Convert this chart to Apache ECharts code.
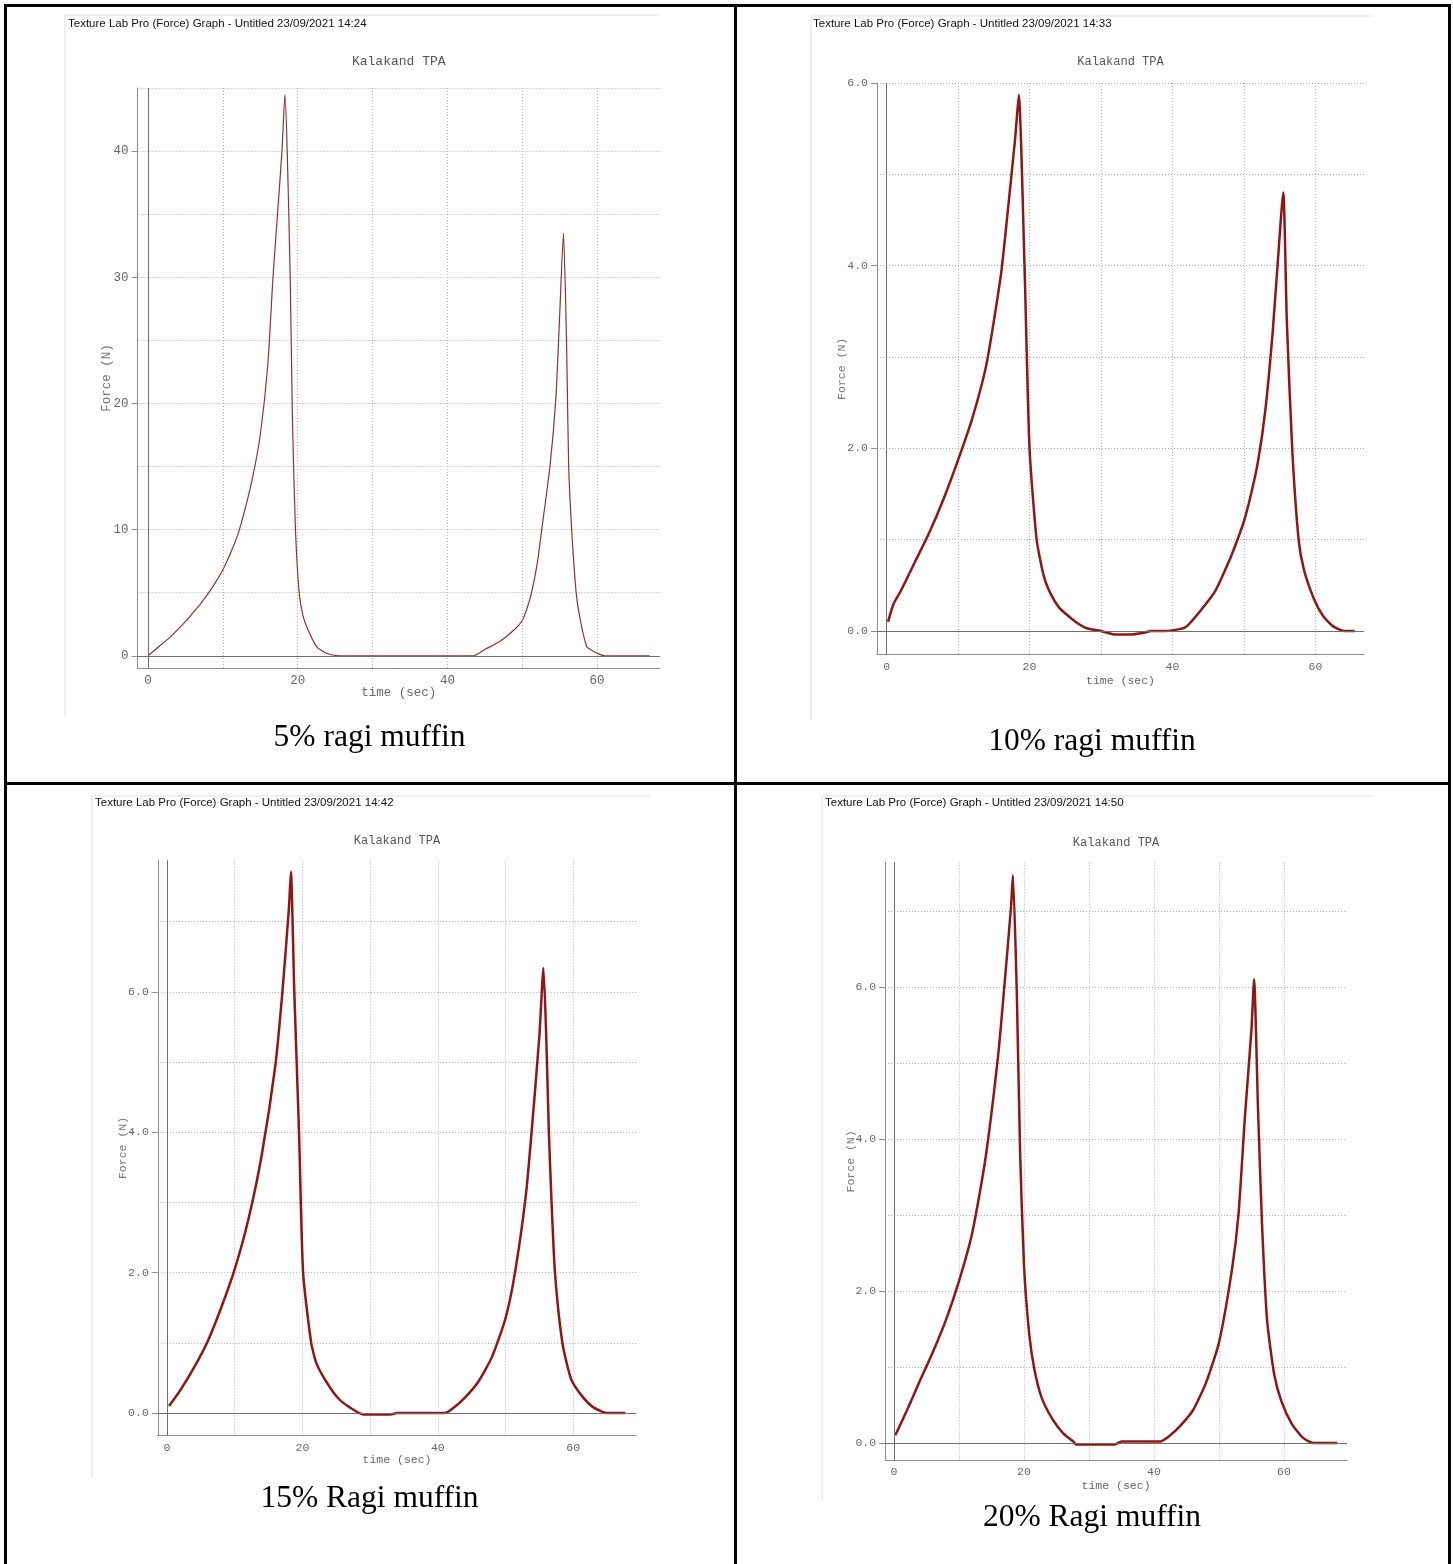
<!DOCTYPE html>
<html>
<head>
<meta charset="utf-8">
<title>Kalakand TPA</title>
<script src="https://cdn.jsdelivr.net/npm/echarts@6/dist/echarts.min.js"></script>
<style>
  html, body { margin: 0; padding: 0; background: #fff; }
  #chartBox { width: 1453px; height: 1564px; }
</style>
</head>
<body>
<div id="chartBox"></div>
<script>
// 5% ragi muffin
const time5 = [0, 1, 2, 3, 4, 5, 6, 7, 8, 9, 10, 11, 12, 13, 14, 15, 16, 16.7, 17.3, 17.9, 18.3, 18.6, 19.0, 19.3, 19.7, 20.2, 20.7, 21.2, 22.5, 23.5, 24.5, 25.5, 30, 35, 40, 43.5, 45, 47, 49, 50, 50.6, 51.2, 52, 52.6, 53.7, 54.5, 55, 55.5, 55.8, 56.0, 56.2, 56.6, 57.2, 57.7, 58.6, 59.5, 60, 61, 64, 67];
const force5 = [0, 0.5, 1.0, 1.5, 2.1, 2.7, 3.4, 4.1, 4.9, 5.8, 6.8, 8.1, 9.6, 11.7, 14.2, 17.5, 23, 30, 35, 40, 44.5, 40, 30, 18.7, 10, 5, 3.2, 2.3, 0.74, 0.3, 0.08, 0, 0, 0, 0, 0, 0.5, 1.13, 2.1, 2.8, 3.7, 4.9, 7.3, 10, 15, 20.5, 27, 33.5, 28, 22, 15, 10, 5, 3, 0.74, 0.35, 0.2, 0, 0, 0];

// 10% ragi muffin
const time10 = [0.2, 1, 2, 4, 6, 8, 10, 12, 14, 16, 17, 18, 18.5, 19.3, 20, 21, 22, 23, 24.2, 25.8, 27, 28, 30, 32, 34, 36, 37, 39, 41, 42, 44, 46, 48, 49, 50, 51, 52, 53, 54, 54.7, 55.5, 56.0, 56.75, 57.65, 58.4, 59.8, 61.1, 62.5, 64, 65.5];
const force10 = [0.1, 0.3, 0.44, 0.76, 1.08, 1.45, 1.87, 2.33, 2.93, 3.9, 4.63, 5.4, 5.87, 4.0, 2.0, 1.0, 0.6, 0.4, 0.25, 0.14, 0.07, 0.03, 0.0, -0.04, -0.04, -0.02, 0.0, 0.0, 0.02, 0.05, 0.23, 0.44, 0.78, 0.98, 1.2, 1.5, 1.87, 2.42, 3.25, 4.0, 4.8, 3.4, 2.0, 1.0, 0.67, 0.35, 0.16, 0.05, 0.0, 0.0];

// 15% Ragi muffin
const time15 = [0.3, 2, 4, 6, 8, 10, 12, 14, 16, 17, 18, 18.3, 18.8, 19.5, 20.1, 21.3, 22.1, 23.7, 25.4, 27, 29, 31, 33, 34, 38, 41, 42, 44, 46, 48, 50, 51.4, 53, 53.85, 55, 55.6, 56.0, 56.4, 56.8, 57.3, 58.4, 59.7, 61.4, 63, 65, 67.7];
const force15 = [0.1, 0.33, 0.65, 1.02, 1.5, 2.05, 2.75, 3.68, 4.95, 5.95, 7.18, 7.71, 6.0, 4.0, 2.0, 1.0, 0.7, 0.42, 0.2, 0.08, -0.02, -0.02, -0.02, 0.0, 0.0, 0.0, 0.05, 0.22, 0.45, 0.8, 1.35, 2.0, 3.1, 4.0, 5.37, 6.34, 5.4, 4.0, 3.0, 2.0, 1.0, 0.48, 0.23, 0.08, 0.0, 0.0];

// 20% Ragi muffin
const time20 = [0.2, 2, 4, 6, 8, 10, 12, 14, 16, 17, 18, 18.3, 18.9, 19.4, 20, 20.8, 21.6, 22.7, 24.4, 26, 27.7, 28, 34, 35, 41, 42.5, 44, 46, 48, 50, 52, 53, 54, 55, 55.4, 56, 56.6, 57.4, 58.5, 59.6, 61.2, 62.9, 64.5, 68.2];
const force20 = [0.1, 0.43, 0.82, 1.2, 1.62, 2.13, 2.75, 3.7, 5.08, 6.03, 7.05, 7.47, 5.9, 3.83, 2.34, 1.44, 0.97, 0.6, 0.31, 0.13, 0.01, -0.02, -0.02, 0.02, 0.02, 0.1, 0.22, 0.43, 0.79, 1.32, 2.28, 3.0, 4.3, 5.44, 6.1, 4.42, 2.93, 1.62, 0.9, 0.55, 0.25, 0.07, 0.0, 0.0];

const yTicks5 = [0, 10, 20, 30, 40];
const yTicksRagi = [0, 2, 4, 6];
const xTickStep = 20;

const headers = [
  "Texture Lab Pro (Force) Graph - Untitled 23/09/2021 14:24",
  "Texture Lab Pro (Force) Graph - Untitled 23/09/2021 14:33",
  "Texture Lab Pro (Force) Graph - Untitled 23/09/2021 14:42",
  "Texture Lab Pro (Force) Graph - Untitled 23/09/2021 14:50"
];
const captions = ["5% ragi muffin", "10% ragi muffin", "15% Ragi muffin", "20% Ragi muffin"];

const mono = '"Liberation Mono", "DejaVu Sans Mono", monospace';

// layout of each screenshot inside the table
const panels = [
  { t: time5, f: force5, yTicks: yTicks5, dec: 0, yStep: 10, yGrid: 5,
    left: 137.5, top: 88, width: 522.5, height: 580, xMin: -1.4, xMax: 68.4, yMin: -0.97, yMax: 45, topLine: true,
    fs: 12.5, lineW: 1.2, color: "#8b3434",
    headX: 68, headY: 24, titleY: 62, yNameX: 107, xNameY: 693, capX: 369.5, capY: 738,
    frame: [65, 15, 660, 717] },
  { t: time10, f: force10, yTicks: yTicksRagi, dec: 1, yStep: 2, yGrid: 1,
    left: 877, top: 83, width: 487, height: 571.7, xMin: -1.34, xMax: 66.8, yMin: -0.26, yMax: 6, topLine: true,
    fs: 11.5, lineW: 2.5, color: "#901616",
    headX: 813, headY: 24, titleY: 62, yNameX: 842, xNameY: 681, capX: 1092, capY: 742,
    frame: [811, 16, 1372, 720] },
  { t: time15, f: force15, yTicks: yTicksRagi, dec: 1, yStep: 2, yGrid: 1,
    left: 157.8, top: 860.5, width: 478.4, height: 575, xMin: -1.36, xMax: 69.3, yMin: -0.32, yMax: 7.87, topLine: false,
    fs: 11.5, lineW: 2.5, color: "#901616",
    headX: 95, headY: 803, titleY: 841, yNameX: 123, xNameY: 1460, capX: 369.5, capY: 1499,
    frame: [92, 796, 650, 1478] },
  { t: time20, f: force20, yTicks: yTicksRagi, dec: 1, yStep: 2, yGrid: 1,
    left: 885.1, top: 862.4, width: 461.9, height: 598, xMin: -1.37, xMax: 69.7, yMin: -0.23, yMax: 7.64, topLine: false,
    fs: 11.5, lineW: 2.5, color: "#901616",
    headX: 825, headY: 803, titleY: 843, yNameX: 851, xNameY: 1486, capX: 1092, capY: 1518,
    frame: [822, 796, 1372, 1500] }
];

const grids = [], xAxes = [], yAxes = [], series = [], graphics = [];

// table borders
[[4, 4, 3, 1560], [4, 4, 1447, 3], [734, 4, 3, 1560], [4, 782, 1447, 3], [1448, 4, 3, 1560]].forEach(b => {
  graphics.push({ type: "rect", silent: true, shape: { x: b[0], y: b[1], width: b[2], height: b[3] }, style: { fill: "#000" } });
});

panels.forEach((p, i) => {
  grids.push({ left: p.left, top: p.top, width: p.width, height: p.height });

  xAxes.push({
    type: "value", gridIndex: i, min: p.xMin, max: p.xMax, minInterval: 10, maxInterval: 10,
    axisLine: { show: true, onZero: false, lineStyle: { color: "#8c8c8c" } },
    axisTick: { show: false },
    axisLabel: {
      margin: 6, color: "#666", fontFamily: mono, fontSize: p.fs,
      formatter: v => (v >= 0 && Math.abs(v % xTickStep) < 1e-6) ? String(Math.round(v)) : ""
    },
    splitLine: { show: true, showMinLine: false, showMaxLine: false, lineStyle: { color: "#b0b0b0", type: [1, 2], width: 1 } }
  });

  // labelled axis (frame, ticks, labels)
  yAxes.push({
    type: "value", gridIndex: i, position: "left", min: p.yMin, max: p.yMax, minInterval: p.yStep, maxInterval: p.yStep,
    axisLine: { show: true, onZero: false, lineStyle: { color: "#8c8c8c" } },
    axisTick: { show: true, length: 6, customValues: p.yTicks, lineStyle: { color: "#8c8c8c" } },
    axisLabel: {
      customValues: p.yTicks, margin: 9, color: "#666", fontFamily: mono, fontSize: p.fs,
      formatter: v => p.yTicks.some(t => Math.abs(t - v) < 1e-6) ? v.toFixed(p.dec) : ""
    },
    splitLine: { show: false }
  });
  // finer grid lines
  yAxes.push({
    type: "value", gridIndex: i, position: "left", min: p.yMin, max: p.yMax, minInterval: p.yGrid, maxInterval: p.yGrid,
    axisLine: { show: false }, axisTick: { show: false }, axisLabel: { show: false },
    splitLine: { show: true, showMinLine: false, showMaxLine: p.topLine, lineStyle: { color: "#a8a8a8", type: [1, 2], width: 1 } }
  });

  series.push({
    type: "line", xAxisIndex: i, yAxisIndex: 2 * i, showSymbol: false, symbol: "none",
    smooth: 0.2,
    data: p.t.map((t, k) => [t, p.f[k]]),
    lineStyle: { color: p.color, width: p.lineW },
    z: 3,
    markLine: {
      silent: true, symbol: "none", label: { show: false },
      lineStyle: { color: "#6e6e6e", type: "solid", width: 1 },
      data: [{ yAxis: 0 }, { xAxis: 0 }]
    }
  });

  const cx = p.left + p.width / 2;
  const cy = p.top + p.height / 2;
  const fr = p.frame;
  graphics.push(
    { type: "line", silent: true, shape: { x1: fr[0], y1: fr[1], x2: fr[2], y2: fr[1] }, style: { stroke: "#e0e0e0", lineWidth: 1 } },
    { type: "line", silent: true, shape: { x1: fr[0], y1: fr[1], x2: fr[0], y2: fr[3] }, style: { stroke: "#e0e0e0", lineWidth: 1 } },
    { type: "text", silent: true, x: p.headX, y: p.headY, style: { text: headers[i], font: '11.5px "Liberation Sans", Arial, sans-serif', fill: "#111", align: "left", verticalAlign: "middle" } },
    { type: "text", silent: true, x: cx, y: p.titleY, style: { text: "Kalakand TPA", font: (p.fs + 0.5) + "px " + mono, fill: "#555", align: "center", verticalAlign: "middle" } },
    { type: "text", silent: true, x: cx, y: p.xNameY, style: { text: "time (sec)", font: p.fs + "px " + mono, fill: "#666", align: "center", verticalAlign: "middle" } },
    { type: "text", silent: true, x: p.yNameX, y: cy, rotation: Math.PI / 2, style: { text: "Force (N)", font: p.fs + "px " + mono, fill: "#777", align: "center", verticalAlign: "middle" } },
    { type: "text", silent: true, x: p.capX, y: p.capY, style: { text: captions[i], font: '31.5px "Liberation Serif", "Times New Roman", serif', fill: "#000", align: "center", verticalAlign: "middle" } }
  );
});

const myChart = echarts.init(document.getElementById("chartBox"));
myChart.setOption({
  animation: false,
  backgroundColor: "#fff",
  grid: grids,
  xAxis: xAxes,
  yAxis: yAxes,
  series: series,
  graphic: graphics
});
</script>
</body>
</html>
